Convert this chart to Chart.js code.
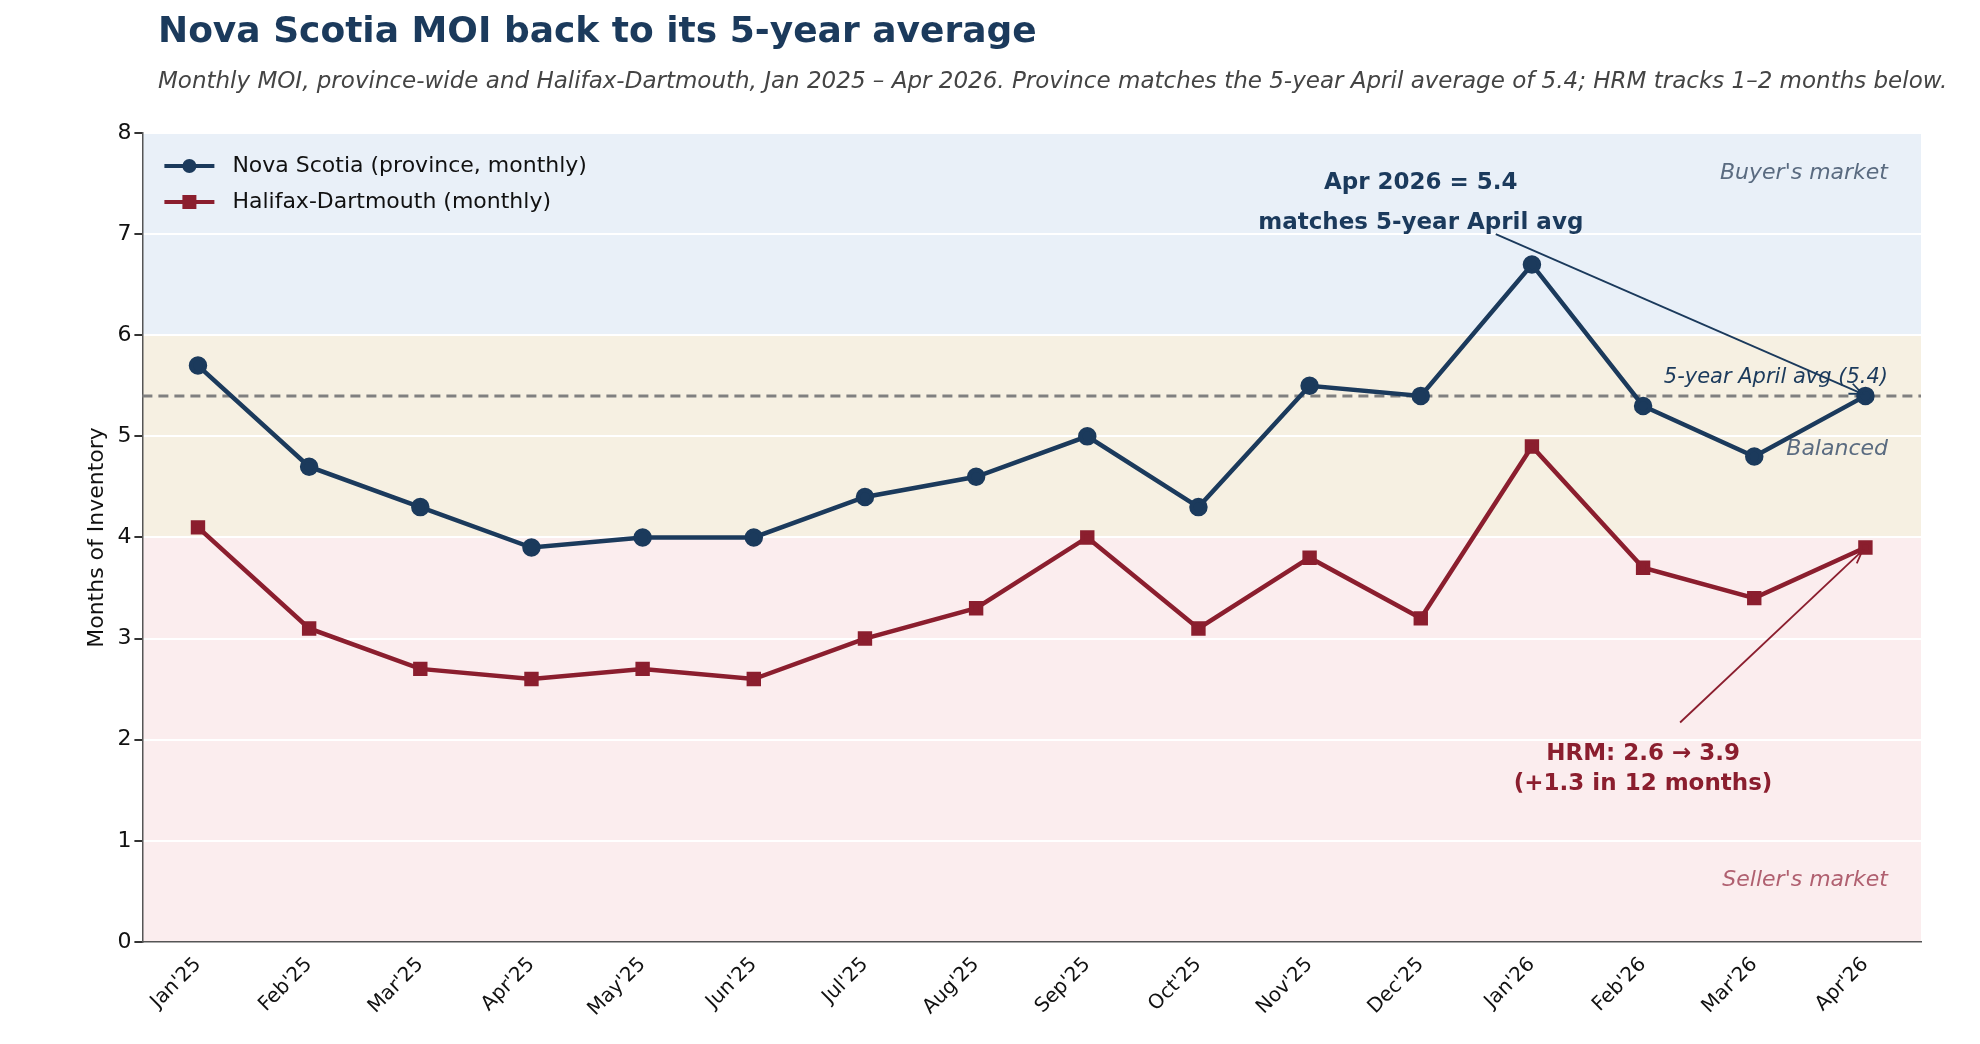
<!DOCTYPE html>
<html><head><meta charset="utf-8">
<script src="https://cdn.jsdelivr.net/npm/chart.js@4"></script>
<style>html,body{margin:0;background:#fff}#wrap{width:1980px;height:1044px}</style>
</head><body><div id="wrap"><canvas id="c"></canvas></div>
<script>
const months = ["Jan'25","Feb'25","Mar'25","Apr'25","May'25","Jun'25","Jul'25","Aug'25","Sep'25","Oct'25","Nov'25","Dec'25","Jan'26","Feb'26","Mar'26","Apr'26"];
const novaScotia = [5.7,4.7,4.3,3.9,4.0,4.0,4.4,4.6,5.0,4.3,5.5,5.4,6.7,5.3,4.8,5.4];
const halifax = [4.1,3.1,2.7,2.6,2.7,2.6,3.0,3.3,4.0,3.1,3.8,3.2,4.9,3.7,3.4,3.9];
const avgApril = 5.4;
const NAVY = '#1b3a5c', RED = '#8b1e2e';
const F = 'DejaVu Sans';

function arrow(ctx, x1, y1, x2, y2, col) {
  ctx.save(); ctx.strokeStyle = col; ctx.lineWidth = 1.8;
  ctx.beginPath(); ctx.moveTo(x1, y1); ctx.lineTo(x2, y2); ctx.stroke();
  const a = Math.atan2(y2 - y1, x2 - x1), L = 14;
  ctx.beginPath();
  ctx.moveTo(x2 - L * Math.cos(a - 0.4), y2 - L * Math.sin(a - 0.4));
  ctx.lineTo(x2, y2);
  ctx.lineTo(x2 - L * Math.cos(a + 0.4), y2 - L * Math.sin(a + 0.4));
  ctx.stroke(); ctx.restore();
}

const decor = {
  id: 'decor',
  beforeDraw(chart) {
    const {ctx, chartArea: a, scales: {y}} = chart;
    const bands = [[0, 4, '#fbedee'], [4, 6, '#f6f0e2'], [6, 8, '#e9f0f8']];
    bands.forEach(([lo, hi, c]) => {
      ctx.fillStyle = c;
      ctx.fillRect(a.left, y.getPixelForValue(hi), a.width, y.getPixelForValue(lo) - y.getPixelForValue(hi));
    });
    ctx.save();
    ctx.fillStyle = NAVY; ctx.font = 'bold 36px ' + F; ctx.textBaseline = 'alphabetic';
    ctx.fillText('Nova Scotia MOI back to its 5-year average', 158, 42);
    ctx.fillStyle = '#444'; ctx.font = 'italic 23px ' + F;
    ctx.fillText('Monthly MOI, province-wide and Halifax-Dartmouth, Jan 2025 \u2013 Apr 2026. Province matches the 5-year April average of 5.4; HRM tracks 1\u20132 months below.', 158, 88);
    ctx.restore();
  },
  beforeDatasetsDraw(chart) {
    const {ctx, chartArea: a, scales: {x, y}} = chart;
    ctx.save();
    const yy = y.getPixelForValue(avgApril);
    ctx.strokeStyle = '#808080'; ctx.lineWidth = 3; ctx.setLineDash([10, 6]);
    ctx.beginPath(); ctx.moveTo(a.left, yy); ctx.lineTo(a.right, yy); ctx.stroke();
    ctx.setLineDash([]);
    ctx.textAlign = 'right'; ctx.font = 'italic 22px ' + F;
    ctx.fillStyle = '#5a6b80';
    ctx.fillText("Buyer's market", a.right - 33, y.getPixelForValue(7.55));
    ctx.fillText('Balanced', a.right - 33, y.getPixelForValue(4.82));
    ctx.fillStyle = '#b06070';
    ctx.fillText("Seller's market", a.right - 33, y.getPixelForValue(0.55));
    ctx.fillStyle = NAVY; ctx.font = 'italic 21px ' + F;
    ctx.fillText('5-year April avg (5.4)', a.right - 33, yy - 13);
    ctx.restore();
  },
  afterDatasetsDraw(chart) {
    const {ctx, chartArea: a, scales: {x, y}} = chart;
    ctx.save();
    ctx.textAlign = 'center'; ctx.font = 'bold 23px ' + F;
    const xa = x.getPixelForValue(11);
    ctx.fillStyle = NAVY;
    ctx.fillText('Apr 2026 = 5.4', xa, y.getPixelForValue(7.45));
    ctx.fillText('matches 5-year April avg', xa, y.getPixelForValue(7.05));
    arrow(ctx, xa + 75, y.getPixelForValue(7.0), x.getPixelForValue(15) - 3, y.getPixelForValue(5.4) - 2, NAVY);
    const xh = x.getPixelForValue(13);
    ctx.fillStyle = RED;
    ctx.fillText('HRM: 2.6 \u2192 3.9', xh, y.getPixelForValue(1.8));
    ctx.fillText('(+1.3 in 12 months)', xh, y.getPixelForValue(1.5));
    arrow(ctx, xh + 37, y.getPixelForValue(2.17), x.getPixelForValue(15) - 3, y.getPixelForValue(3.9) + 3, RED);
    // legend
    const lx = a.left + 22, ly = a.top + 33;
    [['Nova Scotia (province, monthly)', NAVY, 'circle'], ['Halifax-Dartmouth (monthly)', RED, 'rect']].forEach(([t, c, s], i) => {
      const yy = ly + i * 36;
      ctx.strokeStyle = c; ctx.fillStyle = c; ctx.lineWidth = 4;
      ctx.beginPath(); ctx.moveTo(lx, yy); ctx.lineTo(lx + 50, yy); ctx.stroke();
      ctx.beginPath();
      if (s === 'circle') ctx.arc(lx + 25, yy, 7, 0, Math.PI * 2); else ctx.rect(lx + 18, yy - 7, 14, 14);
      ctx.fill();
      ctx.fillStyle = '#111'; ctx.textAlign = 'left'; ctx.textBaseline = 'middle'; ctx.font = '22px ' + F;
      ctx.fillText(t, lx + 68, yy);
    });
    ctx.restore();
  }
};

new Chart(document.getElementById('c'), {
  type: 'line',
  data: {
    labels: months,
    datasets: [
      {label: 'Nova Scotia (province, monthly)', data: novaScotia, borderColor: NAVY, backgroundColor: NAVY, borderWidth: 4.5, pointRadius: 7, pointStyle: 'circle', tension: 0},
      {label: 'Halifax-Dartmouth (monthly)', data: halifax, borderColor: RED, backgroundColor: RED, borderWidth: 4.5, pointRadius: 7, pointStyle: 'rect', tension: 0}
    ]
  },
  options: {
    responsive: true, maintainAspectRatio: false, animation: false, devicePixelRatio: 1,
    layout: {padding: {top: 133, left: 80, right: 59, bottom: 20}},
    plugins: {legend: {display: false}, tooltip: {enabled: false}},
    scales: {
      x: {offset: true, grid: {display: false, drawTicks: true, tickLength: 8, tickColor: '#333'}, border: {color: '#555', width: 1.5},
          ticks: {color: '#111', font: {family: F, size: 20}, maxRotation: 45, minRotation: 45}},
      y: {min: 0, max: 8, grid: {color: '#ffffff', lineWidth: 2, tickColor: '#333', tickLength: 8}, border: {color: '#555', width: 1.5},
          ticks: {stepSize: 1, color: '#111', font: {family: F, size: 22}},
          title: {display: true, text: 'Months of Inventory', color: '#111', font: {family: F, size: 22}}}
    }
  },
  plugins: [decor]
});
</script></body></html>
